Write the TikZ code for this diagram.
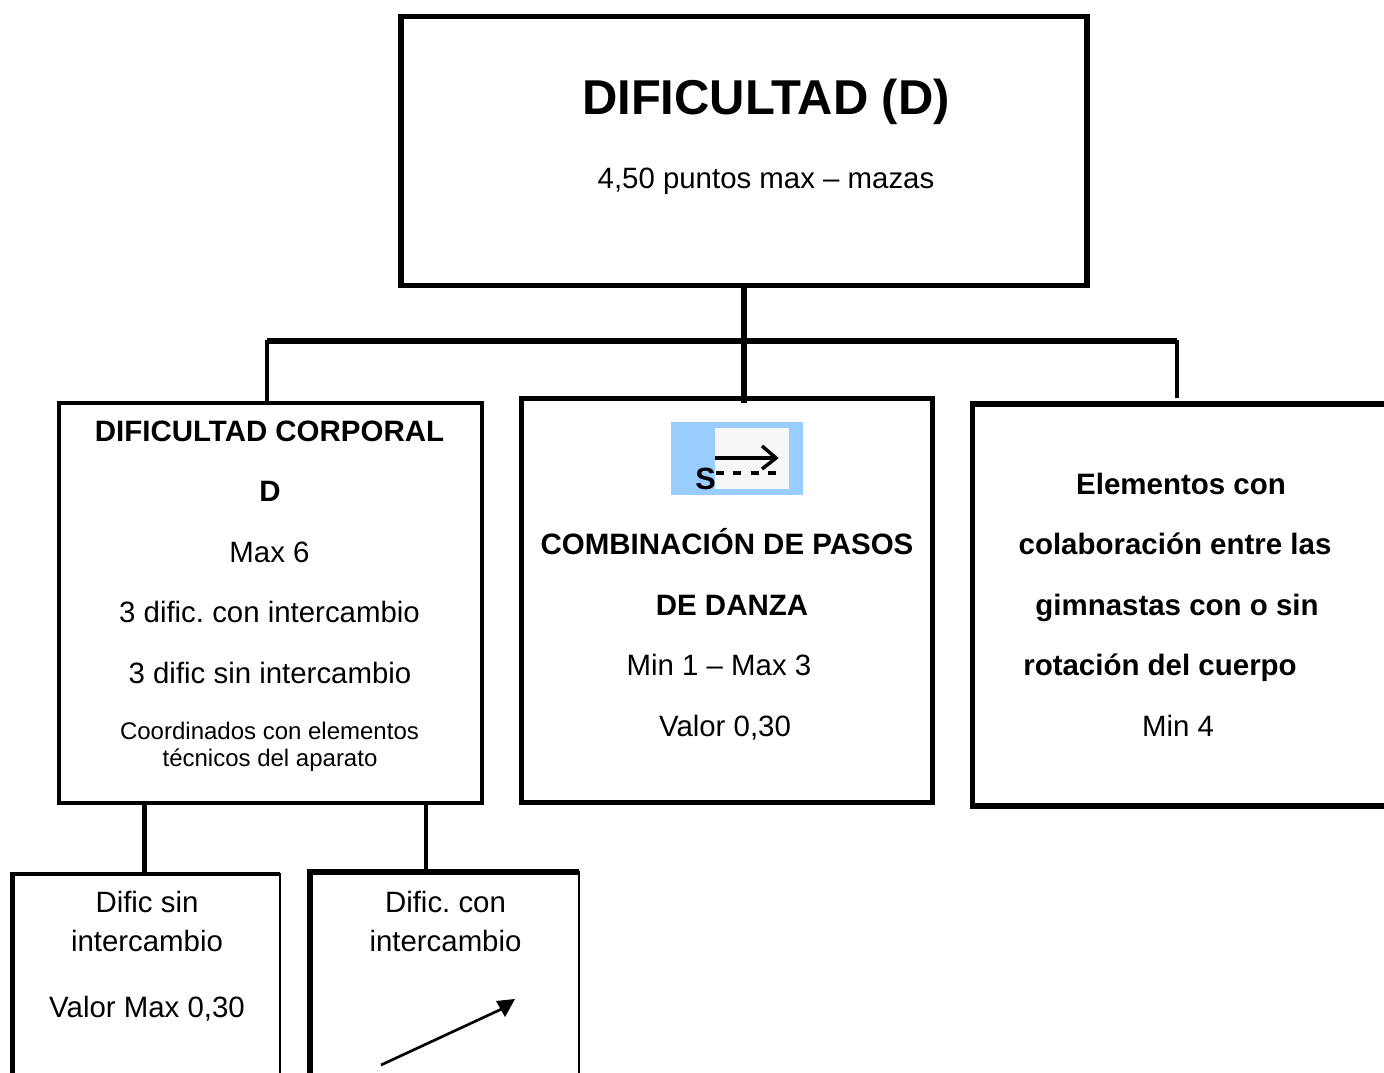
\documentclass[tikz,border=0pt]{standalone}
\usepackage{fontspec}
\setmainfont{Liberation Sans}
\frenchspacing
\begin{document}
\begin{tikzpicture}[x=0.75pt,y=-0.75pt,
  box/.style={draw=black,fill=none,inner sep=0pt,outer sep=0pt},
  link/.style={draw=black,line cap=butt},
  txt/.style={inner sep=0pt,font=\fontsize{22.05pt}{26pt}\selectfont,align=center,anchor=base},
  btxt/.style={txt,font=\fontsize{22.1pt}{26pt}\selectfont\bfseries},
  small/.style={txt,font=\fontsize{18pt}{20.2pt}\selectfont}]
\useasboundingbox (0,0) rectangle (1384,1073);
\clip (0,0) rectangle (1384,1073);
\fill[white] (0,0) rectangle (1384,1073);
% boxes
\node[box,line width=3.8pt,minimum width=686*0.75pt,minimum height=269*0.75pt] (top) at (744,151) {};
\node[box,line width=2.7pt,minimum width=423*0.75pt,minimum height=400*0.75pt] (corp) at (270.5,603) {};
\node[box,line width=3.7pt,minimum width=411*0.75pt,minimum height=404*0.75pt] (danza) at (727,600.5) {};
\node[box,line width=3.9pt,minimum width=500*0.75pt,minimum height=402*0.75pt] (colab) at (1222.5,605) {};
\node[box,line width=1.5pt,minimum width=267*0.75pt,minimum height=300*0.75pt] (sin) at (146,1024) {};
\node[box,line width=2.2pt,minimum width=269*0.75pt,minimum height=300*0.75pt] (con) at (444.5,1022) {};
% thicker sides of the lower boxes
\draw[line width=3pt] (sin.north west) -- (sin.north east);
\draw[line width=3.8pt] ([yshift=1.5pt]sin.north west) -- (sin.south west);
\draw[line width=4.2pt,miter limit=10] (con.south west) -- (con.north west) -- (con.north east);
% connectors
\coordinate (busL) at (267,341);
\coordinate (busR) at (1177,341);
\coordinate (busM) at (744,341);
\coordinate (colabIn) at (1177,398);
\coordinate (danzaIn) at (744,403);
\coordinate (sinOut) at (144.5,805);
\coordinate (conOut) at (426,805);
\draw[link,line width=3.9pt] (busL) -- (busR);
\draw[link,line width=3.9pt] (top.south -| busM) -- (danzaIn);
\draw[link,line width=3.4pt] ([yshift=1pt]busL) -- (corp.north -| busL);
\draw[link,line width=3.4pt] ([yshift=1pt]busR) -- (colabIn);
\draw[link,line width=3.6pt] (sinOut) -- (sin.north -| sinOut);
\draw[link,line width=3.4pt] (conOut) -- (con.north -| conOut);
% top text
\node[txt,font=\fontsize{36.7pt}{40pt}\selectfont\bfseries] (t1) at (766,115) {DIFICULTAD (D)};
\node[txt] (t2) at (766,189) {4,50 puntos max – mazas};
% corporal
\node[btxt] (c1) at (269.5,441) {DIFICULTAD CORPORAL};
\node[btxt] (c2) at (270,501) {D};
\node[txt] (c3) at (269.5,562) {Max 6};
\node[txt] (c4) at (269.5,622) {3 dific. con intercambio};
\node[txt] (c5) at (270,683) {3 dific sin intercambio};
\node[small] (c6) at (269.5,739) {Coordinados con elementos};
\node[small] (c7) at (270,766) {técnicos del aparato};
% danza symbol
\fill[fill={rgb,255:red,153;green,204;blue,255}] (671,422) rectangle (803,495);
\fill[black!3] (715,428) rectangle (789,489);
\draw[line width=3pt] (715,458) -- (776,458);
\draw[line width=2.6pt] (762,446) -- (776,458) -- (762,469);
\draw[line width=2.8pt,dash pattern=on 6pt off 7pt] (716,473) -- (776,473);
\node[txt,font=\fontsize{23pt}{26pt}\selectfont\bfseries] (ds) at (705.5,489) {S};
\node[btxt] (d1) at (727,554) {COMBINACIÓN DE PASOS};
\node[btxt] (d2) at (732,615) {DE DANZA};
\node[txt] (d3) at (719,675) {Min 1 – Max 3};
\node[txt] (d4) at (725,736) {Valor 0,30};
% colaboracion
\node[btxt] (e1) at (1181,494) {Elementos con};
\node[btxt] (e2) at (1175,554) {colaboración entre las};
\node[btxt] (e3) at (1177,615) {gimnastas con o sin};
\node[btxt] (e4) at (1160,675) {rotación del cuerpo};
\node[txt] (e5) at (1178,736) {Min 4};
% lower boxes
\node[txt] (s1) at (147,912) {Dific sin};
\node[txt] (s2) at (147,951) {intercambio};
\node[txt] (s3) at (147,1017) {Valor Max 0,30};
\node[txt] (n1) at (445.5,912) {Dific. con};
\node[txt] (n2) at (445.5,951) {intercambio};
\coordinate (arrowA) at (381,1065);
\coordinate (arrowB) at (506,1007);
\coordinate (arrowTip) at (515,999);
\draw[line width=2pt] (arrowA) -- (arrowB);
\fill (arrowTip) -- (496,1001) -- (505,1017) -- cycle;
\end{tikzpicture}
\end{document}
